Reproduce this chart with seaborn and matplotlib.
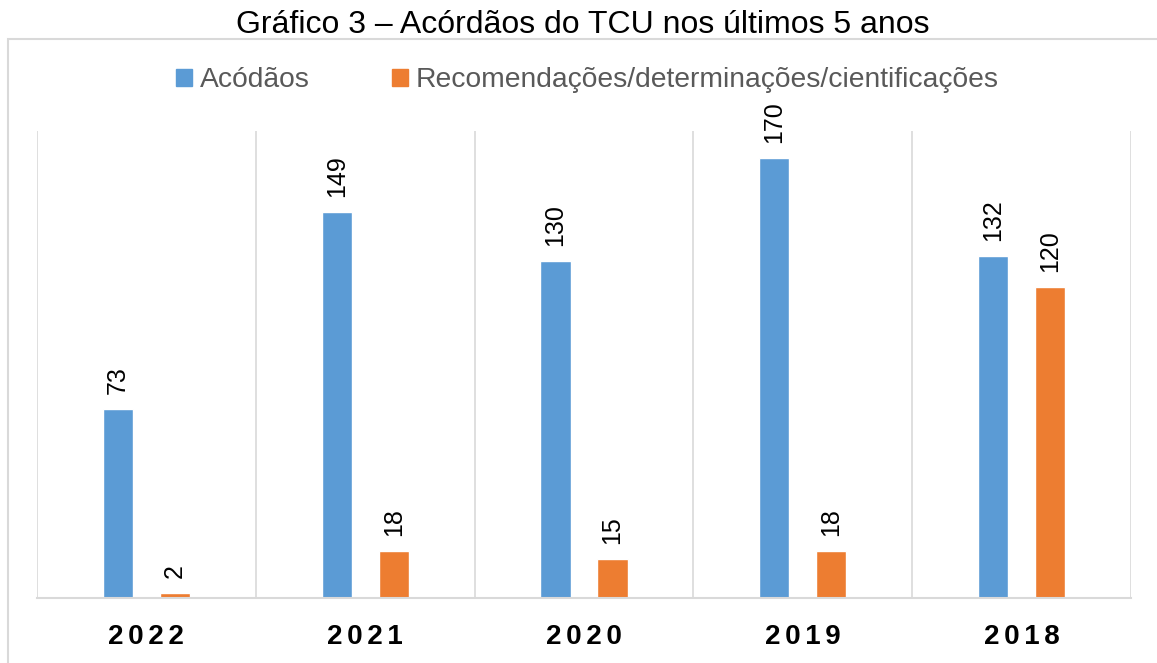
import numpy as np
import pandas as pd
import matplotlib.pyplot as plt
import seaborn as sns
from matplotlib.patches import Rectangle

anos = ['2022', '2021', '2020', '2019', '2018']
acordaos = [73, 149, 130, 170, 132]
recomendacoes = [2, 18, 15, 18, 120]
series = ['Acódãos', 'Recomendações/determinações/cientificações']

df = pd.DataFrame({
    'ano': anos * 2,
    'valor': acordaos + recomendacoes,
    'serie': [series[0]] * len(anos) + [series[1]] * len(anos),
})

sns.set_theme(style='white')
plt.rcParams['font.family'] = ['Liberation Sans', 'DejaVu Sans']

fig = plt.figure(figsize=(11.57, 6.63), dpi=100)
ax = fig.add_axes([0.032, 0.098, 0.9455, 0.7044])

sns.barplot(data=df, x='ano', y='valor', hue='serie', order=anos,
            palette=['#5B9BD5', '#ED7D31'], saturation=1, width=0.52, gap=0.47,
            legend=False, ax=ax)

for cont in ax.containers:
    ax.bar_label(cont, rotation=90, padding=11, fontsize=18, color='black')

ax.set_ylim(0, 180.4)
ax.set_xlim(-0.5, len(anos) - 0.5)
ax.set_xlabel('')
ax.set_ylabel('')
ax.set_yticks([])
# anos com espaçamento entre letras, como no original
ax.set_xticks(range(len(anos)))
ax.set_xticklabels(['\u2006'.join(a) for a in anos], fontsize=20,
                   fontweight='bold', color='black')
ax.tick_params(axis='x', length=0, pad=19)

# separadores verticais entre categorias
for b in np.arange(-0.5, len(anos), 1.0):
    ax.axvline(b, color='#d9d9d9', lw=1.2, zorder=0)
for s in ['top', 'right', 'left']:
    ax.spines[s].set_visible(False)
ax.spines['bottom'].set_color('#d9d9d9')
ax.spines['bottom'].set_linewidth(1.5)

# legenda
handles = [Rectangle((0, 0), 1, 1, color='#5B9BD5'),
           Rectangle((0, 0), 1, 1, color='#ED7D31')]
fig.legend(handles, series, loc='center', bbox_to_anchor=(0.508, 0.879),
           ncol=2, frameon=False, fontsize=20.3, labelcolor='#595959',
           handlelength=0.55, handleheight=0.55, handletextpad=0.3,
           columnspacing=2.9)

# borda da área do gráfico
fig.patches.append(Rectangle((8 / 1157, -0.1), 1.2, (663 - 39) / 663 + 0.1,
                             transform=fig.transFigure, fill=False,
                             edgecolor='#d9d9d9', lw=1.5))

fig.text(0.504, 0.962, 'Gráfico 3 – Acórdãos do TCU nos últimos 5 anos',
         ha='center', va='center', fontsize=23, color='black')

fig.savefig('out.png', dpi=100)
